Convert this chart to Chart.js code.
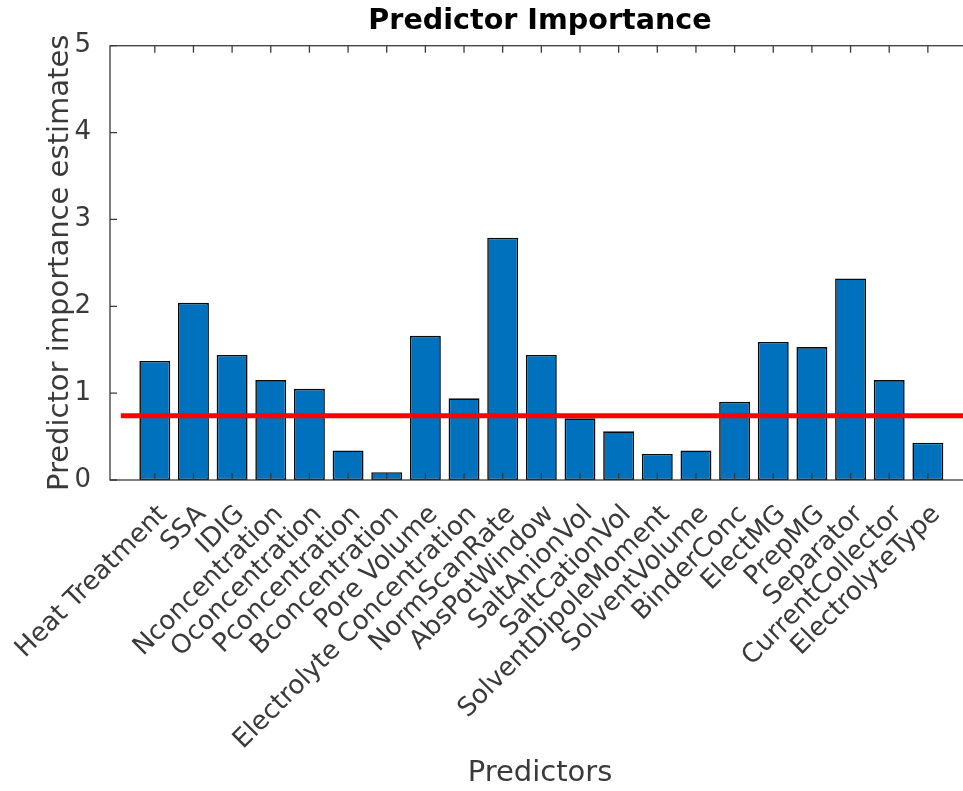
<!DOCTYPE html>
<html>
<head>
<meta charset="utf-8">
<title>Predictor Importance</title>
<script src="https://cdn.jsdelivr.net/npm/chart.js@4.4.1/dist/chart.umd.min.js"></script>
<style>
  html, body { margin: 0; padding: 0; overflow: hidden; background: #fff; width: 963px; height: 791px; }
  #wrap { width: 1083px; height: 791px; position: relative; }
</style>
</head>
<body>
<div id="wrap"><canvas id="c" width="1083" height="791"></canvas></div>
<script>
// Predictor names, in plotting order
const predictors = [
  'Heat Treatment', 'SSA', 'IDIG', 'Nconcentration', 'Oconcentration',
  'Pconcentration', 'Bconcentration', 'Pore Volume', 'Electrolyte Concentration',
  'NormScanRate', 'AbsPotWindow', 'SaltAnionVol', 'SaltCationVol',
  'SolventDipoleMoment', 'SolventVolume', 'BinderConc', 'ElectMG', 'PrepMG',
  'Separator', 'CurrentCollector', 'ElectrolyteType'
];

// Importance estimate for each predictor
const importance = [
  1.37, 2.04, 1.44, 1.15, 1.05,
  0.34, 0.09, 1.66, 0.94,
  2.79, 1.44, 0.71, 0.56,
  0.30, 0.34, 0.90, 1.59, 1.53,
  2.32, 1.15, 0.43
];

// Cut-off level shown as a horizontal red line, and its x extent
const thresholdValue = 0.74;
const thresholdSpan = [0.12, 22.09];

// Value-axis ticks
const yTicks = [0, 1, 2, 3, 4, 5];

const FONT = 'DejaVu Sans';
const TEXT = '#3a3a3a';

// MATLAB-style box: frame on all four sides with inward tick marks
const axesBox = {
  id: 'axesBox',
  afterDatasetsDraw(chart) {
    const { ctx, chartArea: a, scales: { x, y } } = chart;
    const L = 7;
    ctx.save();
    ctx.strokeStyle = '#3a3a3a';
    ctx.lineWidth = 1.3;
    ctx.beginPath();
    x.ticks.forEach(t => {
      const px = x.getPixelForValue(t.value);
      ctx.moveTo(px, a.bottom); ctx.lineTo(px, a.bottom - L);
      ctx.moveTo(px, a.top);    ctx.lineTo(px, a.top + L);
    });
    y.ticks.forEach(t => {
      const py = y.getPixelForValue(t.value);
      ctx.moveTo(a.left, py);  ctx.lineTo(a.left + L, py);
      ctx.moveTo(a.right, py); ctx.lineTo(a.right - L, py);
    });
    ctx.stroke();
    ctx.strokeRect(a.left, a.top, a.right - a.left, a.bottom - a.top);
    ctx.restore();
  }
};

new Chart(document.getElementById('c'), {
  type: 'bar',
  data: {
    datasets: [
      {
        type: 'line',
        data: thresholdSpan.map(x => ({ x, y: thresholdValue })),
        borderColor: '#ff0000',
        borderWidth: 5,
        pointRadius: 0,
        order: 1
      },
      {
        type: 'bar',
        data: predictors.map((p, i) => ({ x: i + 1, y: importance[i] })),
        backgroundColor: '#0072BD',
        borderColor: '#0a0a0a',
        borderWidth: 1.6,
        borderSkipped: false,
        barPercentage: 0.8,
        categoryPercentage: 1.0,
        order: 2
      }
    ]
  },
  options: {
    responsive: false,
    animation: false,
    events: [],
    devicePixelRatio: 1,
    layout: { padding: { left: 0, right: 113, top: 0, bottom: 0 } },
    plugins: {
      legend: { display: false },
      tooltip: { enabled: false },
      title: {
        display: true,
        fullSize: false,
        text: 'Predictor Importance',
        color: '#000',
        font: { family: FONT, size: 28.6, weight: 'bold' },
        padding: { top: 4.6, bottom: 6.8 }
      }
    },
    scales: {
      x: {
        type: 'linear',
        min: -0.159,
        max: 22.09,
        offset: false,
        grid: { display: false },
        border: { display: false },
        afterBuildTicks: s => { s.ticks = predictors.map((_, i) => ({ value: i + 1 })); },
        afterFit: s => { s.height = 311; s.paddingLeft = 0; s.paddingRight = 0; },
        ticks: {
          autoSkip: false,
          minRotation: 45,
          maxRotation: 45,
          padding: 14,
          showLabelBackdrop: true,
          backdropColor: 'rgba(0,0,0,0)',
          backdropPadding: 0,
          color: TEXT,
          font: { family: FONT, size: 26, lineHeight: '24px' },
          callback: v => predictors[v - 1] ?? ''
        },
        title: {
          display: true,
          text: 'Predictors',
          color: TEXT,
          font: { family: FONT, size: 29 },
          padding: { top: 0, bottom: 0 }
        }
      },
      y: {
        min: 0,
        max: 5,
        grid: { display: false },
        border: { display: false },
        afterBuildTicks: s => { s.ticks = yTicks.map(v => ({ value: v })); },
        afterFit: s => { s.width = 110; s.paddingTop = 0; s.paddingBottom = 0; },
        ticks: {
          padding: 11,
          color: TEXT,
          font: { family: FONT, size: 26 }
        },
        title: {
          display: true,
          text: 'Predictor importance estimates',
          color: TEXT,
          font: { family: FONT, size: 29 },
          padding: { top: 43, bottom: 0 }
        }
      }
    }
  },
  plugins: [axesBox]
});
</script>
</body>
</html>
